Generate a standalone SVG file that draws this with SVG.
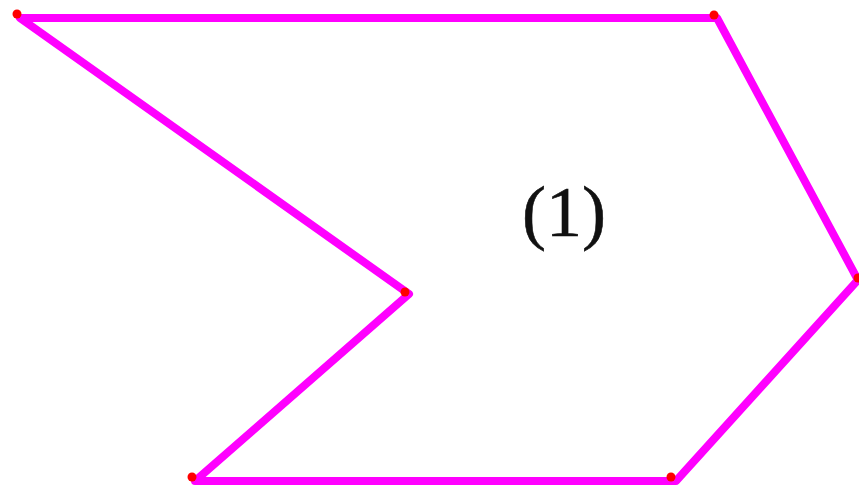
<svg xmlns="http://www.w3.org/2000/svg" width="859" height="490" viewBox="0 0 859 490">
<style>
.edge{fill:none;stroke:#ff00ff;stroke-width:8;stroke-linejoin:round;stroke-linecap:round}
.pt{fill:#ff0000}
.lbl{font-family:"Liberation Serif",serif;font-size:72px;fill:#111111}
</style>
<rect width="859" height="490" fill="#ffffff"/>
<g id="connectors">
<polygon class="edge" points="20,18 717,18 858,280 676,481 195,481 409,294"/>
</g>
<g id="vertices">
<circle class="pt" cx="17" cy="14" r="4.5"/>
<circle class="pt" cx="714" cy="15" r="4.5"/>
<circle class="pt" cx="858" cy="278" r="4.5"/>
<circle class="pt" cx="405" cy="292" r="4.5"/>
<circle class="pt" cx="192" cy="477" r="4.5"/>
<circle class="pt" cx="671" cy="477" r="4.5"/>
</g>
<g id="label">
<text class="lbl" x="564" y="236" text-anchor="middle" stroke="#111111" stroke-width="0.6">(1)</text>
</g>
</svg>
